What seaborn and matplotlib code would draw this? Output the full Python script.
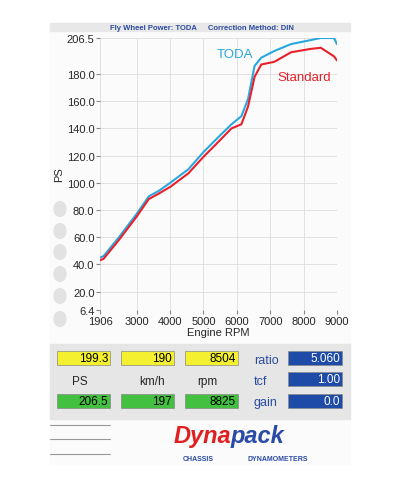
import matplotlib
matplotlib.use("Agg")
import matplotlib.pyplot as plt
import seaborn as sns
import pandas as pd
from matplotlib.patches import Rectangle, Circle

rpm = [1906, 2010, 2475, 3000, 3366, 3663, 4010, 4554, 5000, 5445, 5841, 6138, 6336, 6534, 6732, 7128, 7623, 8217, 8514, 8910, 9000]
toda = [45, 46, 60, 77, 90, 94, 100, 110, 122.5, 133.5, 143, 149, 161.5, 186, 192, 197, 202, 205, 206.5, 206.5, 202]
standard = [43, 44, 58, 75, 88, 92, 97, 107, 119, 130, 140, 143, 156, 178, 187, 189, 196, 198.5, 199.3, 193, 190]
yticks = [6.4, 20, 40, 60, 80, 100, 120, 140, 160, 180, 206.5]
xticks = [1906, 3000, 4000, 5000, 6000, 7000, 8000, 9000]

df = pd.concat([pd.DataFrame({"rpm": rpm, "PS": toda, "run": "TODA"}),
                pd.DataFrame({"rpm": rpm, "PS": standard, "run": "Standard"})])

sns.set_style("white")
plt.rcParams['font.family'] = ['Liberation Sans', 'DejaVu Sans']
fig = plt.figure(figsize=(4, 4.89), dpi=100)
W, H = 400, 489
def fx(x): return x / W
def fy(y): return 1 - y / H

# page
fig.patches.append(Rectangle((fx(50), fy(465)), 300 / W, 441 / H, transform=fig.transFigure, color="#fbfbfb", zorder=0))
fig.patches.append(Rectangle((fx(50), fy(32)), 300 / W, 8 / H, transform=fig.transFigure, color="#e8e8e8", zorder=0))
fig.text(fx(110), fy(28), "Fly Wheel Power: TODA", color="#2a4aa0", fontsize=5.5, fontweight="bold", va="center")
fig.text(fx(208), fy(28), "Correction Method: DIN", color="#2a4aa0", fontsize=5.5, fontweight="bold", va="center")
for cy in [210, 232, 253, 275, 297, 320]:
    fig.patches.append(Circle((fx(60), fy(cy)), 6 / W, transform=fig.transFigure, color="#e2e2e2", zorder=1))

ax = fig.add_axes([0.25, fy(311), 237 / W, 272 / H])
ax.set_zorder(5)
ax.patch.set_alpha(0)
sns.lineplot(data=df, x="rpm", y="PS", hue="run", palette={"TODA": "#29a8e0", "Standard": "#e8202a"},
             ax=ax, legend=False, linewidth=1.5)
ax.set_xlim(1906, 9000)
ax.set_ylim(6.4, 206.5)
ax.set_xticks(xticks)
ax.set_yticks(yticks)
ax.set_yticklabels([f"{v:.1f}" for v in yticks], fontsize=8)
ax.set_xticklabels([str(v) for v in xticks], fontsize=8)
ax.grid(True, color="#dcdcdc", linewidth=0.6)
for s in ax.spines.values():
    s.set_visible(False)
ax.tick_params(axis="both", length=3, color="#888888", left=True, bottom=True, pad=1)
ax.set_xlabel("Engine RPM", fontsize=8, labelpad=1)
ax.set_ylabel("PS", fontsize=8, labelpad=2)
ax.text(5940, 195, "TODA", color="#29a8e0", fontsize=9.5, ha="center", va="center")
ax.text(8020, 178, "Standard", color="#e8202a", fontsize=9.5, ha="center", va="center")

# bottom panel
fig.patches.append(Rectangle((fx(50), fy(420)), 300 / W, 75 / H, transform=fig.transFigure, color="#e6e6e6", zorder=0))
def box(x, y, w, h, c, txt, tc="black"):
    fig.patches.append(Rectangle((fx(x), fy(y + h)), w / W, h / H, transform=fig.transFigure, color=c, ec="#888888", lw=0.5, zorder=2))
    fig.text(fx(x + w - 2), fy(y + h / 2), txt, color=tc, fontsize=8.5, ha="right", va="center", zorder=3)
box(57, 352, 53, 14, "#f4f030", "199.3")
box(121, 352, 53, 14, "#f4f030", "190")
box(185, 352, 53, 14, "#f4f030", "8504")
box(57, 395, 53, 14, "#44c040", "206.5")
box(121, 395, 53, 14, "#44c040", "197")
box(185, 395, 53, 14, "#44c040", "8825")
box(288, 352, 54, 14, "#1e4aa8", "5.060", "white")
box(288, 373, 54, 14, "#1e4aa8", "1.00", "white")
box(288, 395, 54, 14, "#1e4aa8", "0.0", "white")
for x, t in [(80, "PS"), (152, "km/h"), (207, "rpm")]:
    fig.text(fx(x), fy(382), t, fontsize=8.5, ha="center", va="center")
for y, t in [(361, "ratio"), (382, "tcf"), (403, "gain")]:
    fig.text(fx(254), fy(y), t, fontsize=9, color="#2a4aa0", va="center")
for y in [426, 440, 455]:
    fig.lines.append(plt.Line2D([fx(50), fx(110)], [fy(y), fy(y)], transform=fig.transFigure, color="#999999", lw=0.8))
fig.text(fx(231), fy(437), "Dyna", color="#e02020", fontsize=17, fontweight="bold", style="italic", ha="right", va="center")
fig.text(fx(231), fy(437), "pack", color="#2a4aa8", fontsize=17, fontweight="bold", style="italic", ha="left", va="center")
fig.text(fx(183), fy(460), "CHASSIS", color="#2a4aa8", fontsize=5, fontweight="bold", ha="left", va="center")
fig.text(fx(248), fy(460), "DYNAMOMETERS", color="#2a4aa8", fontsize=5, fontweight="bold", ha="left", va="center")

fig.savefig("out.png", dpi=100)
